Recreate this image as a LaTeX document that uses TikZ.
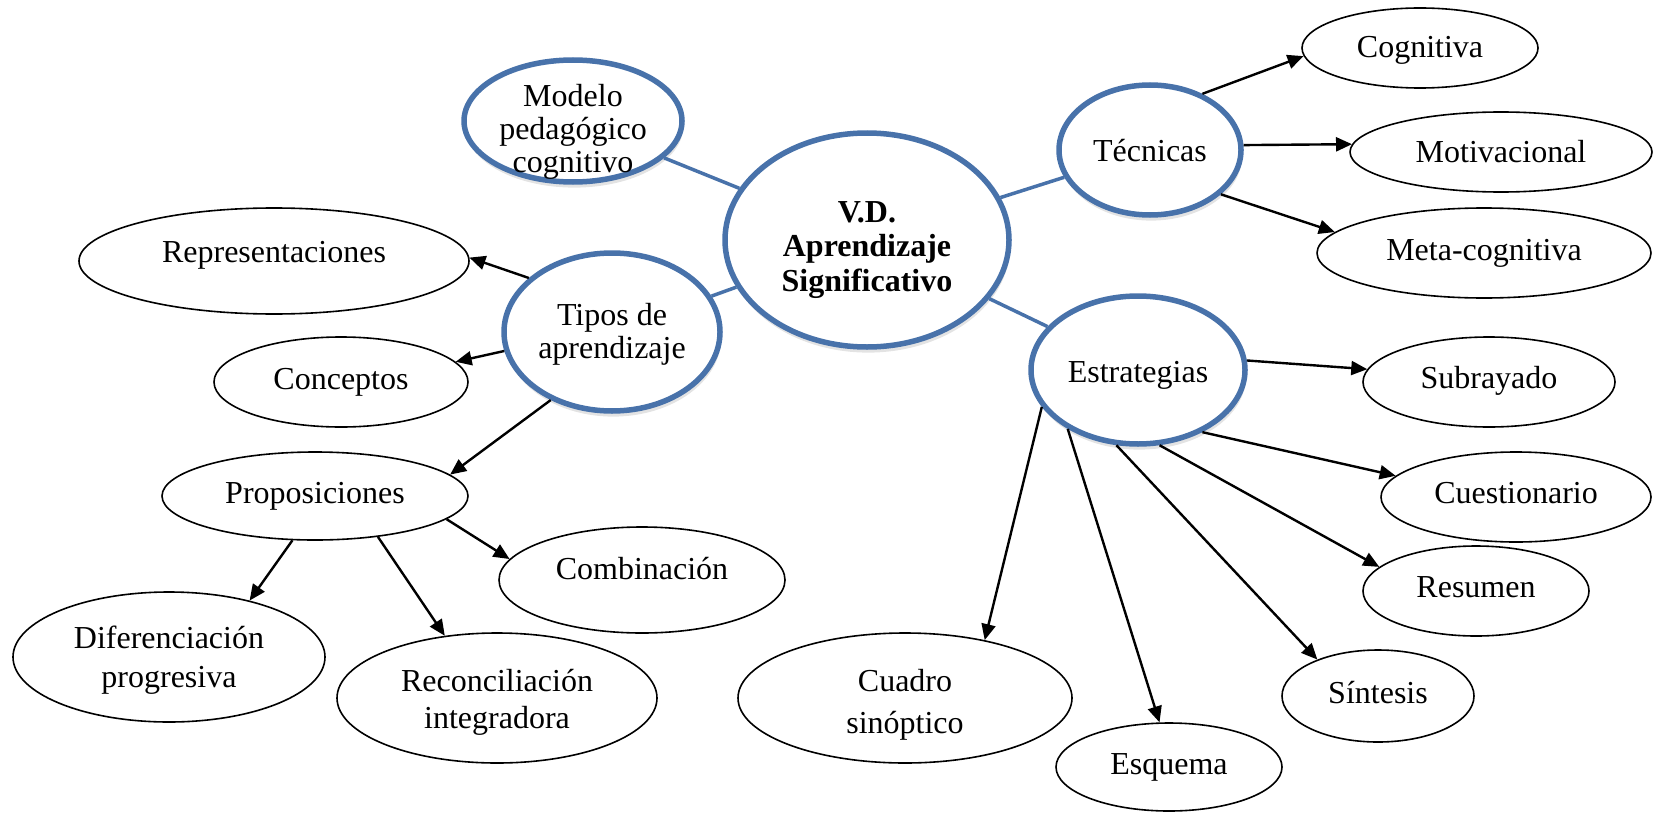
\documentclass[tikz,border=0pt]{standalone}
\usepackage{fontspec}
\setmainfont{Liberation Serif}
\usetikzlibrary{shapes.geometric,arrows.meta,shadows}
\definecolor{nodeblue}{RGB}{72,114,170}
\begin{document}
\begin{tikzpicture}[x=0.5pt,y=-0.5pt,
  bnode/.style={ellipse, draw=nodeblue, line width=2.75pt, fill=white, inner sep=0pt, align=center,
    font=\fontsize{16}{16.5}\selectfont,
    drop shadow={opacity=0.22, shadow xshift=0.6pt, shadow yshift=-2.8pt}},
  wnode/.style={ellipse, draw=black, line width=0.8pt, fill=white, inner sep=0pt, align=center,
    font=\fontsize{16}{18}\selectfont},
  one/.style={text height=14.2pt, text depth=#1},
  one/.default=3.5pt,
  link/.style={draw=nodeblue, line width=1.75pt},
  arr/.style={-{Triangle[length=8pt,width=7pt]}, line width=1.2pt},
]
\useasboundingbox (0,0) rectangle (1653,813);

% blue nodes
\node[bnode, inner ysep=-9pt, minimum width=109pt, minimum height=61pt] (mod) at (573,121) {\rule{0pt}{21.5pt}Modelo\\pedagógico\\cognitivo};
\node[bnode, font=\bfseries\fontsize{16}{17.25}\selectfont, minimum width=142pt, minimum height=107pt] (vd) at (867,240) {\rule{0pt}{20.3pt}V.D.\\Aprendizaje\\Significativo};
\node[bnode, minimum width=108pt, minimum height=79pt] (tip) at (612,332) {\rule{0pt}{13.5pt}Tipos de\\aprendizaje};
\node[bnode, one=2.4pt, minimum width=91pt, minimum height=65pt] (tec) at (1150,150) {Técnicas};
\node[bnode, one=1.4pt, minimum width=107pt, minimum height=74pt] (est) at (1138,370) {Estrategias};

% white nodes
\node[wnode, one=4.5pt, minimum width=118pt, minimum height=40pt] (cog) at (1420,48) {Cognitiva};
\node[wnode, one, minimum width=151pt, minimum height=40pt] (mot) at (1501,152) {Motivacional};
\node[wnode, one=6.4pt, minimum width=167pt, minimum height=45pt] (met) at (1484,253) {Meta-cognitiva};
\node[wnode, one=12.5pt, minimum width=195pt, minimum height=53pt] (rep) at (274,261) {Representaciones};
\node[wnode, one=6.7pt, minimum width=127pt, minimum height=45pt] (con) at (341,382) {Conceptos};
\node[wnode, one=6.7pt, minimum width=153pt, minimum height=44pt] (pro) at (315,496) {Proposiciones};
\node[wnode, one=14.4pt, minimum width=143pt, minimum height=53pt] (com) at (642,580) {Combinación};
\node[wnode, font=\fontsize{16}{19.5}\selectfont, minimum width=156pt, minimum height=65pt] (dif) at (169,657) {\rule{0pt}{14.5pt}Diferenciación\\progresiva};
\node[wnode, font=\fontsize{16}{18.5}\selectfont, minimum width=160pt, minimum height=65pt] (rec) at (497,698) {\rule{0pt}{15pt}Reconciliación\\integradora};
\node[wnode, one=7.5pt, minimum width=126pt, minimum height=45pt] (sub) at (1489,382) {Subrayado};
\node[wnode, one=7.4pt, minimum width=135pt, minimum height=45pt] (cue) at (1516,497) {Cuestionario};
\node[wnode, one=7.5pt, minimum width=113pt, minimum height=45pt] (res) at (1476,591) {Resumen};
\node[wnode, one=6.4pt, minimum width=96pt, minimum height=46pt] (sin) at (1378,696) {Síntesis};
\node[wnode, font=\fontsize{16}{21}\selectfont, minimum width=167pt, minimum height=65pt] (cua) at (905,698) {\rule{0pt}{18.3pt}Cuadro\\sinóptico};
\node[wnode, one=6.4pt, minimum width=113pt, minimum height=44pt] (esq) at (1169,767) {Esquema};

% blue links
\draw[link] (vd) -- (mod);
\draw[link] (vd) -- (tip);
\draw[link] (vd) -- (tec);
\draw[link] (vd) -- (est);

% arrows
\draw[arr] (tec.47.9) -- (cog.184.8);
\draw[arr] (tec.3.7) -- (mot.177);
\draw[arr] (tec.328.3) -- (met.172.5);
\draw[arr] (tip.147.6) -- (rep.1.8);
\draw[arr] (tip.190.1) -- (con.10.7);
\draw[arr] (tip.228) -- (pro.9.6);
\draw[arr] (pro.243) -- (dif.35.7);
\draw[arr] (pro.327.2) -- (rec.130.7);
\draw[arr] (pro.350.7) -- (com.171.3);
\draw[arr] (est.5.1) -- (sub.174.4);
\draw[arr] (est.316) -- (cue.170.8);
\draw[arr] (est.286.3) -- (res.166.8);
\draw[arr] (est.254.8) -- (sin.149.6);
\draw[arr] (est.220.8) -- (esq.102.3);
\draw[arr] (est.201.1) -- (cua.36.2);
\end{tikzpicture}
\end{document}
